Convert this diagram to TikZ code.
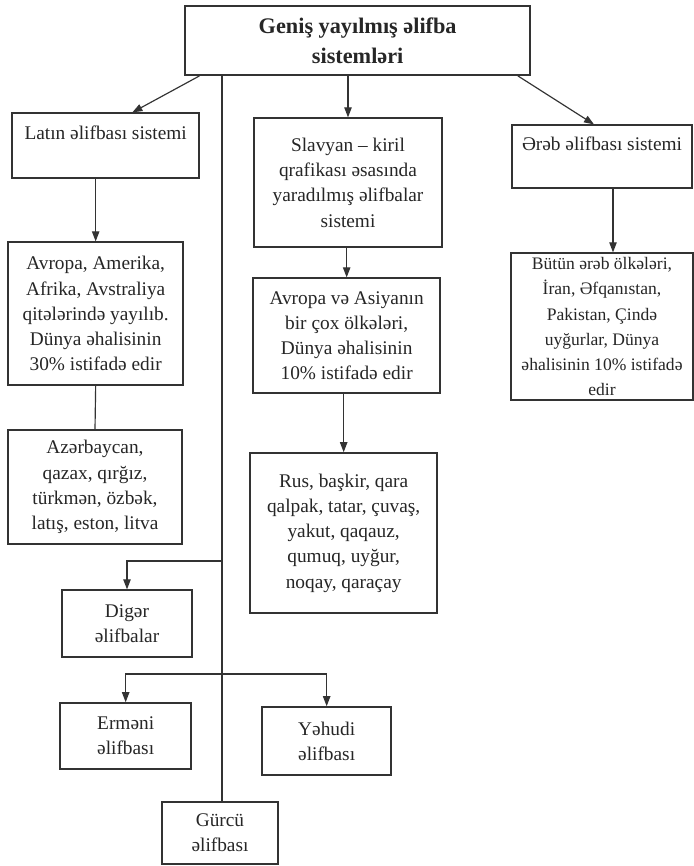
\documentclass[tikz,border=0pt]{standalone}
\usepackage{fontspec}
\setmainfont{Liberation Serif}
\usepackage{tikz}
\usetikzlibrary{calc,arrows.meta}
\newcommand{\inkcolor}{black!80}
\newcommand{\rimwidth}{1.3pt}
\newcommand{\wirewidth}{1pt}

\begin{document}
\begin{tikzpicture}[
  box/.style={draw=\inkcolor, line width=\rimwidth, rectangle, align=center, inner sep=0pt, text=black!85, font=\fontsize{16.5}{21.5}\selectfont},
  link/.style={draw=\inkcolor, line width=\wirewidth},
  arrow/.style={link, -{Triangle[length=3mm,width=2.2mm]}}
]
\useasboundingbox (0,0) rectangle (20.82,-25.98);
\fill[white] (0,0) rectangle (20.82,-25.98);
%top
\node[box] (top) at (10.73, -1.22) [minimum width=10.35cm, minimum height=2.07cm, font=\fontsize{19}{25}\selectfont\bfseries] {Geniş yayılmış əlifba\\sistemləri};
%left
\node[box] (latin) at (3.17, -4.37) [minimum width=5.61cm, minimum height=1.95cm] {Latın əlifbası sistemi\\\mbox{}};
\node[box] (avropaA) at (2.87, -9.41) [minimum width=5.25cm, minimum height=4.29cm] {Avropa, Amerika,\\Afrika, Avstraliya\\qitələrində yayılıb.\\Dünya əhalisinin\\30\% istifadə edir};
\node[box] (azerb) at (2.85, -14.61) [minimum width=5.22cm, minimum height=3.42cm] {Azərbaycan,\\qazax, qırğız,\\türkmən, özbək,\\latış, eston, litva};
%middle
\node[box] (slavyan) at (10.44, -5.48) [minimum width=5.64cm, minimum height=3.87cm] {Slavyan -- kiril\\qrafikası əsasında\\yaradılmış əlifbalar\\sistemi};
\node[box] (avropaB) at (10.40, -10.07) [minimum width=5.61cm, minimum height=3.45cm] {Avropa və Asiyanın\\bir çox ölkələri,\\Dünya əhalisinin\\10\% istifadə edir};
\node[box] (rus) at (10.31, -15.99) [minimum width=5.61cm, minimum height=4.80cm] {Rus, başkir, qara\\qalpak, tatar, çuvaş,\\yakut, qaqauz,\\qumuq, uyğur,\\noqay, qaraçay};
%right
\node[box] (arab) at (18.06, -4.70) [minimum width=5.40cm, minimum height=1.89cm] {Ərəb əlifbası sistemi\\\mbox{}};
\node[box] (butun) at (18.06, -9.80) [minimum width=5.46cm, minimum height=4.41cm, font=\fontsize{15}{21.5}\selectfont] {Bütün ərəb ölkələri,\\İran, Əfqanıstan,\\Pakistan, Çində\\uyğurlar, Dünya\\əhalisinin 10\% istifadə\\edir};
%others
\node[box] (diger) at (3.81, -18.71) [minimum width=3.90cm, minimum height=2.01cm] {Digər\\əlifbalar};
\node[box] (ermeni) at (3.77, -22.08) [minimum width=3.93cm, minimum height=1.98cm] {Erməni\\əlifbası};
\node[box] (yehudi) at (9.80, -22.23) [minimum width=3.87cm, minimum height=2.04cm] {Yəhudi\\əlifbası};
\node[box] (gurcu) at (6.60, -24.99) [minimum width=3.48cm, minimum height=1.86cm] {Gürcü\\əlifbası};
\coordinate (trunk) at (6.66, -2.255);
\coordinate (split1) at (6.66, -16.83);
\coordinate (split2) at (6.66, -20.22);
%connectors
\draw[arrow] ([xshift=0.45cm]top.south west) -- ([xshift=0.8cm]latin.north);
\draw[arrow] (slavyan.north |- top.south) -- (slavyan.north);
\draw[arrow] ([xshift=-0.39cm]top.south east) -- ([xshift=-0.24cm]arab.north);
\draw[arrow] (avropaA.north |- latin.south) -- (avropaA.north);
\draw[link] (avropaA.south) -- (azerb.north);
\draw[arrow] (avropaB.north |- slavyan.south) -- (avropaB.north);
\draw[arrow] (rus.north |- avropaB.south) -- (rus.north);
\draw[arrow] ([xshift=0.33cm]arab.south) -- ([xshift=0.33cm]butun.north);
\draw[link] (trunk) -- (trunk |- gurcu.north);
\draw[arrow] (split1) -| (diger.north);
\draw[arrow] (split2) -| (ermeni.north);
\draw[arrow] (split2) -| (yehudi.north);
\end{tikzpicture}
\end{document}
